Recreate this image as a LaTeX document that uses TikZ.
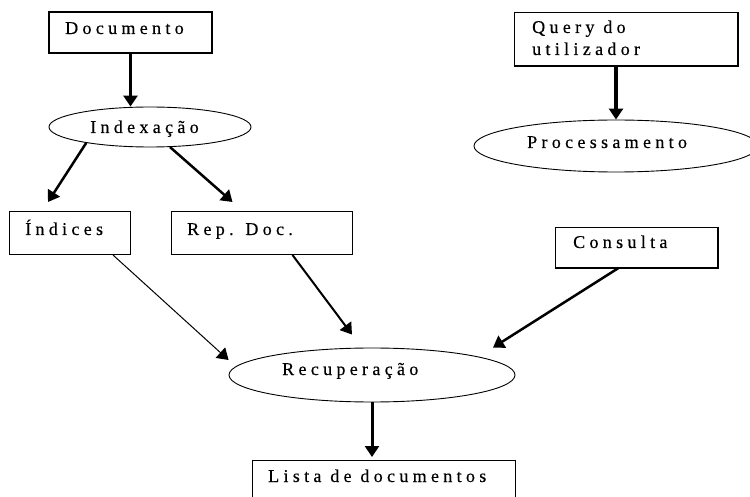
\documentclass[tikz,border=0pt]{standalone}
\usepackage{fontspec}
\newfontfamily\lblfont[LetterSpace=24,FakeBold=0.4]{Liberation Serif}
\usetikzlibrary{shapes.geometric,arrows.meta}

\tikzset{
  box/.style={draw, rectangle, line width=1pt, anchor=north west, inner sep=0pt},
  oval/.style={draw, ellipse, line width=0.9pt, inner sep=0pt},
  txt/.style={anchor=base west, inner sep=0pt, font=\lblfont\fontsize{18}{21}\selectfont},
  arr/.style={-{Triangle[length=11pt,width=14pt]}},
  shade/.style={line width=2pt}
}

\begin{document}
\begin{tikzpicture}[x=1pt,y=1pt]
\useasboundingbox (0,0) rectangle (750,-497);

% left branch: document indexing
\node[box, line width=2pt, minimum width=163pt, minimum height=41pt] (doc) at (48,-11) {};
\node[txt] (doct) at (65,-34) {Documento};

\node[oval, minimum width=202pt, minimum height=40pt] (idx) at (150,-127) {};
\node[txt] (idxt) at (90,-133) {Indexação};

\node[box, minimum width=121pt, minimum height=43pt] (ind) at (9,-211) {};
\node[txt] (indt) at (25,-235) {Índices};

\node[box, minimum width=181pt, minimum height=43pt] (rep) at (171,-211) {};
\node[txt] (rept) at (187,-235) {Rep. Doc.};

% right branch: user query
\node[box, minimum width=223pt, minimum height=53pt] (qry) at (514,-12) {};
\draw[shade] (qry.north east) -- (qry.south east) -- (qry.south west);
\node[txt] (qryt1) at (532,-33) {Query do};
\node[txt] (qryt2) at (532,-55) {utilizador};

\node[oval, minimum width=284pt, minimum height=52pt] (prc) at (616,-146) {};
\node[txt] (prct) at (527,-148) {Processamento};

\node[box, minimum width=162pt, minimum height=40pt] (con) at (555,-227) {};
\draw[shade] (con.north east) -- (con.south east) -- (con.south west);
\node[txt] (cont) at (573,-248) {Consulta};

% retrieval and result
\node[oval, minimum width=286pt, minimum height=54pt] (rec) at (372,-375) {};
\node[txt] (rect) at (282,-375) {Recuperação};

\node[box, minimum width=263pt, minimum height=60pt] (lst) at (252,-460) {};
\node[txt] (lstt) at (268,-482) {Lista de documentos};

% connectors
\draw[arr, line width=3pt] (doc.south) -- (doc.south |- idx.north);
\draw[arr, line width=2.5pt] (idx.194) -- ([xshift=39pt,yshift=9pt]ind.north west);
\draw[arr, line width=2.5pt] ([xshift=20pt,yshift=0.4pt]idx.south) -- ([xshift=-29.5pt,yshift=9pt]rep.north);
\draw[arr, line width=3.5pt] (qry.south -| prc.north) -- (prc.north);
\draw[arr, line width=1pt] ([xshift=-18pt]ind.south east) -- ([yshift=15pt]rec.west);
\draw[arr, line width=2pt] ([xshift=30.5pt]rep.south) -- ([xshift=-20pt,yshift=13pt]rec.north);
\draw[arr, line width=2.5pt] ([xshift=-18pt]con.south) -- ([xshift=121pt]rec.north);
\draw[arr, line width=3pt, shorten >=3pt] (rec.south) -- (rec.south |- lst.north);
\end{tikzpicture}
\end{document}
